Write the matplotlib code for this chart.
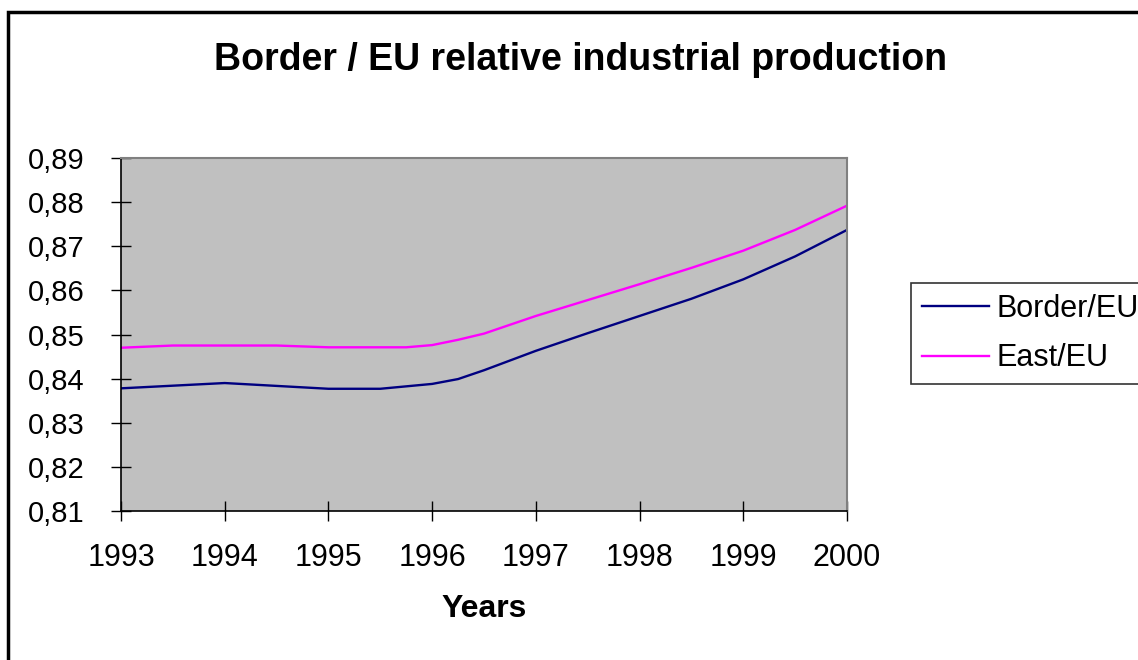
import matplotlib.pyplot as plt
from matplotlib.patches import Rectangle

plt.rcParams['font.family'] = ['Liberation Sans', 'DejaVu Sans']

# data
border_x = [1993, 1994, 1995, 1995.5, 1996, 1996.25, 1996.5, 1997, 1997.5,
            1998, 1998.5, 1999, 1999.5, 2000]
border_eu = [0.8378, 0.8390, 0.8377, 0.8377, 0.8388, 0.8399, 0.8419, 0.8463,
             0.8503, 0.8542, 0.8581, 0.8625, 0.8677, 0.8737]

east_x = [1993, 1993.5, 1994, 1994.5, 1995, 1995.75, 1996, 1996.25, 1996.5,
          1997, 1997.5, 1998, 1998.5, 1999, 1999.5, 2000]
east_eu = [0.8470, 0.8475, 0.8475, 0.8475, 0.8471, 0.8471, 0.8476, 0.8488,
           0.8502, 0.8542, 0.8578, 0.8614, 0.8651, 0.8690, 0.8737, 0.8792]

years = [1993, 1994, 1995, 1996, 1997, 1998, 1999, 2000]
y_ticks = [0.81, 0.82, 0.83, 0.84, 0.85, 0.86, 0.87, 0.88, 0.89]
y_labels = ["0,81", "0,82", "0,83", "0,84", "0,85", "0,86", "0,87", "0,88", "0,89"]

fig = plt.figure(figsize=(11.38, 6.6), dpi=100)
ax = fig.add_axes([121 / 1138, 1 - 511 / 660, 726 / 1138, 353 / 660])
ax.set_facecolor('#C0C0C0')

ax.plot(border_x, border_eu, color='#000080', lw=1.7, label='Border/EU')
ax.plot(east_x, east_eu, color='#FF00FF', lw=1.7, label='East/EU')

ax.set_xlim(1993, 2000)
ax.set_ylim(0.81, 0.89)
ax.set_xticks(years)
ax.set_xticklabels([str(y) for y in years], fontsize=22)
ax.set_yticks(y_ticks)
ax.set_yticklabels(y_labels, fontsize=21)
ax.tick_params(direction='inout', length=14, width=1, color='black')
ax.tick_params(axis='y', pad=19)
ax.tick_params(axis='x', pad=16)

for s in ['top', 'right']:
    ax.spines[s].set_color('#808080')
    ax.spines[s].set_linewidth(1.5)
for s in ['left', 'bottom']:
    ax.spines[s].set_color('black')
    ax.spines[s].set_linewidth(1.2)

ax.set_xlabel('Years', fontsize=23, fontweight='bold', labelpad=15)

fig.text(581 / 1138, 1 - 60 / 660, 'Border / EU relative industrial production',
         ha='center', va='center', fontsize=27, fontweight='bold')

leg = fig.legend(loc='upper left', bbox_to_anchor=(911 / 1138, 1 - 283 / 660),
                 fontsize=22, frameon=True, fancybox=False, borderaxespad=0,
                 handlelength=2.2, handletextpad=0.25, labelspacing=0.63,
                 borderpad=0.36)
leg.get_frame().set_edgecolor('black')
leg.get_frame().set_linewidth(1.2)

# outer chart border
fig.patches.append(Rectangle((8 / 1138, -0.1), 1.2, 1.1 - 12 / 660,
                             transform=fig.transFigure, fill=False,
                             edgecolor='black', lw=2.5))

fig.savefig('out.png', dpi=100)
